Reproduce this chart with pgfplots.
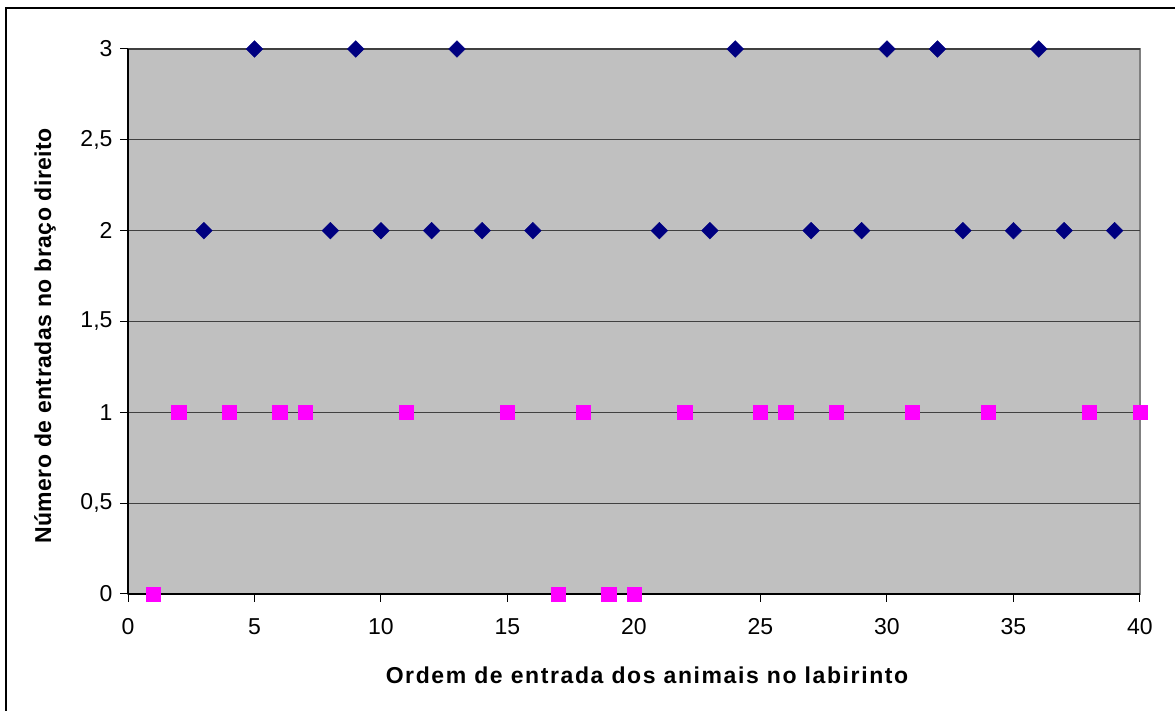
\documentclass[border=0pt]{standalone}
\usepackage{pgfplots}
\pgfplotsset{compat=1.18}
\usepackage{fontspec}
\setmainfont{Liberation Sans}
\definecolor{navyc}{HTML}{000080}
\definecolor{magc}{HTML}{FF00FF}
\definecolor{bgc}{HTML}{C0C0C0}
\pgfplotstableread{
x y
3 2
5 3
8 2
9 3
10 2
12 2
13 3
14 2
16 2
21 2
23 2
24 3
27 2
29 2
30 3
32 3
33 2
35 2
36 3
37 2
39 2
}\blue
\pgfplotstableread{
x y
1 0
2 1
4 1
6 1
7 1
11 1
15 1
17 0
18 1
19 0
20 0
22 1
25 1
26 1
28 1
31 1
34 1
38 1
40 1
}\pink
\begin{document}
\begin{tikzpicture}[x=1pt,y=1pt]
\path[use as bounding box] (0,0) rectangle (1175,711);
\draw[line width=1.5pt] (6,0) -- (6,703) -- (1175,703);
\begin{axis}[
  at={(128pt,117pt)}, anchor=south west,
  scale only axis, width=1012pt, height=545pt,
  xmin=0, xmax=40, ymin=0, ymax=3,
  axis lines=left,
  axis line style={-, line width=1.3pt, black},
  axis background/.style={fill=bgc, draw=gray, line width=1.5pt},
  xtick={0,5,...,40},
  ytick={0,0.5,1,1.5,2,2.5,3},
  yticklabels={0,{0,5},1,{1,5},2,{2,5},3},
  tick align=outside,
  major tick length=8pt,
  tick style={black, line width=1pt},
  ymajorgrids,
  grid style={black!75, line width=1.2pt},
  /pgf/number format/assume math mode=true,
  tick label style={font=\fontsize{23}{26}\selectfont},
  xticklabel style={yshift=-13pt},
  yticklabel style={xshift=-4pt},
  clip=false,
]
\addplot[only marks, mark=square*, mark size=5.9pt, color=navyc, mark options={rotate=45}] table {\blue};
\addplot[only marks, mark=square*, mark size=7.2pt, color=magc] table {\pink};
\end{axis}
\node[font=\bfseries\fontsize{23}{26}\selectfont\addfontfeature{LetterSpace=7}] at (647,36) {Ordem de entrada dos animais no labirinto};
\node[font=\bfseries\fontsize{23}{26}\selectfont\addfontfeature{LetterSpace=2}, rotate=90] at (45,375) {Número de entradas no braço direito};
\end{tikzpicture}
\end{document}
